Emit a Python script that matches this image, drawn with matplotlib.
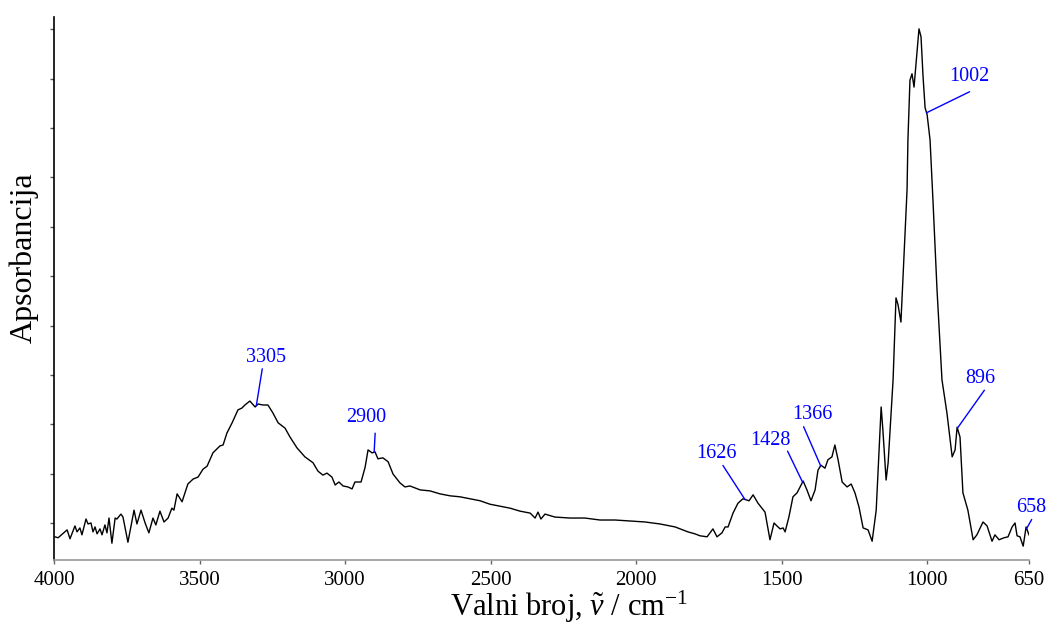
import numpy as np
import matplotlib
matplotlib.use('Agg')
import matplotlib.pyplot as plt

plt.rcParams['font.family'] = ['Liberation Serif', 'DejaVu Serif']
plt.rcParams['mathtext.fontset'] = 'custom'
plt.rcParams['mathtext.rm'] = 'Liberation Serif'
plt.rcParams['mathtext.it'] = 'Liberation Serif:italic'

# spectrum (wavenumber / cm-1, absorbance in arbitrary units)
wavenumber = [3997, 3986, 3955, 3945, 3928, 3921, 3911, 3904, 3890, 3883, 3873, 3866, 3859, 3852,
              3842, 3835, 3825, 3818, 3811, 3801, 3790, 3784, 3770, 3763, 3746, 3725, 3715, 3701,
              3687, 3674, 3660, 3650, 3636, 3622, 3608, 3595, 3588, 3577, 3560, 3540, 3522, 3505,
              3488, 3474, 3454, 3430, 3419, 3406, 3388, 3368, 3354, 3344, 3327, 3309, 3299, 3282,
              3265, 3248, 3230, 3206, 3189, 3165, 3138, 3110, 3093, 3076, 3062, 3045, 3034, 3021,
              3007, 2990, 2976, 2966, 2945, 2931, 2921, 2907, 2897, 2887, 2870, 2852,
              2835, 2811, 2794, 2777, 2742, 2708, 2674, 2639, 2605, 2571, 2536, 2502, 2468, 2433,
              2399, 2364, 2347, 2337, 2327, 2313, 2279, 2227, 2176, 2124, 2072, 2021, 1969, 1918,
              1866, 1822, 1798,
              1780, 1756, 1736, 1722, 1705, 1694, 1684, 1667, 1650, 1633, 1612, 1598, 1581, 1557,
              1540, 1526, 1516, 1505, 1495, 1488, 1475, 1461, 1447, 1426, 1413, 1399, 1385, 1375,
              1365, 1351, 1341, 1327, 1317, 1306, 1292, 1275, 1261, 1248, 1234, 1220, 1203, 1189,
              1175, 1158, 1152, 1141, 1134, 1117, 1107, 1100, 1090, 1080, 1069, 1066, 1059, 1052,
              1045, 1035, 1028, 1021, 1014, 1007, 1000, 990, 980, 966, 949, 932, 914, 904, 897,
              887, 877, 860, 842, 829, 808, 794, 777, 767, 753, 736, 722, 708, 698, 691, 681, 670,
              660, 650]
absorbance = [0.047, 0.045, 0.061, 0.043, 0.069, 0.057, 0.065, 0.051, 0.083, 0.073, 0.075, 0.057,
              0.067, 0.053, 0.063, 0.051, 0.071, 0.055, 0.085, 0.034, 0.085, 0.083, 0.093, 0.087,
              0.036, 0.101, 0.073, 0.101, 0.075, 0.055, 0.085, 0.071, 0.099, 0.077, 0.085, 0.105,
              0.101, 0.134, 0.118, 0.154, 0.164, 0.168, 0.184, 0.190, 0.217, 0.231, 0.233, 0.257,
              0.278, 0.304, 0.308, 0.314, 0.322, 0.310, 0.316, 0.314, 0.314, 0.298, 0.278, 0.267,
              0.249, 0.227, 0.209, 0.197, 0.180, 0.172, 0.176, 0.168, 0.152, 0.158, 0.150, 0.148,
              0.144, 0.158, 0.158, 0.188, 0.223, 0.217, 0.219, 0.205, 0.207, 0.199,
              0.174, 0.156, 0.148, 0.150, 0.142, 0.140, 0.134, 0.130, 0.128, 0.124, 0.120, 0.113,
              0.109, 0.105, 0.099, 0.095, 0.085, 0.097, 0.083, 0.093, 0.087, 0.085, 0.085, 0.081,
              0.081, 0.079, 0.077, 0.073, 0.067, 0.057, 0.053,
              0.049, 0.047, 0.063, 0.047, 0.055, 0.067, 0.067, 0.095, 0.115, 0.124, 0.120, 0.132,
              0.115, 0.097, 0.041, 0.075, 0.069, 0.063, 0.065, 0.057, 0.087, 0.128, 0.136, 0.160,
              0.142, 0.120, 0.142, 0.182, 0.192, 0.186, 0.203, 0.209, 0.233, 0.203, 0.158, 0.148,
              0.154, 0.136, 0.107, 0.065, 0.061, 0.038, 0.101, 0.310, 0.263, 0.162, 0.197, 0.365,
              0.531, 0.517, 0.482, 0.608, 0.750, 0.851, 0.972, 0.985, 0.958, 1.027, 1.076, 1.060,
              0.979, 0.916, 0.902, 0.851, 0.729, 0.547, 0.365, 0.298, 0.209, 0.223, 0.269, 0.249,
              0.136, 0.101, 0.041, 0.051, 0.077, 0.069, 0.038, 0.051, 0.041, 0.045, 0.047, 0.067,
              0.075, 0.049, 0.047, 0.028, 0.067, 0.051]

peaks = [3305, 2900, 1626, 1428, 1366, 1002, 896, 658]
peak_labels = ['3305', '2900', '1626', '1428', '1366', '1002', '896', '658']

x_ticks = [4000, 3500, 3000, 2500, 2000, 1500, 1000, 650]

# label layout, pixel offsets from the peak: (line end) and (text centre)
line_off = [(6, 37), (1, 19), (-22, 34), (-15, 31), (-17, 39), (43, 21), (27, 38), (5, 9)]
text_off = [(10, 48), (-8, 35), (-28, 46), (-32, 42), (-8, 51), (43, 36), (23, 50), (5, 21)]

fig = plt.figure(figsize=(10.49, 6.23), dpi=100)
ax = fig.add_axes([54 / 1049, 63 / 623, 975 / 1049, 543 / 623])

ax.plot(wavenumber, absorbance, color='black', lw=1.0)

wn_sorted = np.array(wavenumber[::-1])
ab_sorted = np.array(absorbance[::-1])
for p, lab, lo, to in zip(peaks, peak_labels, line_off, text_off):
    a = np.interp(p, wn_sorted, ab_sorted)
    ax.annotate('', xy=(p, a), xytext=lo, textcoords='offset pixels',
                arrowprops=dict(arrowstyle='-', color='blue', lw=1, shrinkA=0, shrinkB=0),
                annotation_clip=False)
    ax.annotate(lab, xy=(p, a), xytext=to, textcoords='offset pixels',
                ha='center', va='center', color='blue', fontsize=14.5,
                annotation_clip=False)

ax.set_xlim(4000, 650)
ax.set_ylim(0, 1.1)
ax.set_xticks(x_ticks)
ax.set_xticklabels([str(t) for t in x_ticks], fontsize=15)
ax.set_yticks([0.075 + 0.1 * k for k in range(11)])
ax.set_yticklabels([])

ax.spines['top'].set_visible(False)
ax.spines['right'].set_visible(False)
ax.spines['bottom'].set_color('#9a9a9a')
ax.spines['bottom'].set_linewidth(1.2)
ax.spines['left'].set_color('black')
ax.spines['left'].set_linewidth(1.2)
ax.tick_params(axis='x', direction='out', length=3, width=1, color='#666666', pad=5)
ax.tick_params(axis='y', direction='out', length=3, width=1, color='#555555')

ax.set_xlabel(r'Valni broj, $\tilde{\nu}$ / cm$^{-1}$', fontsize=22)
ax.xaxis.set_label_coords(0.528, -0.053)
ax.xaxis.label.set_va('top')
ax.set_ylabel('Apsorbancija', fontsize=23)
ax.yaxis.set_label_coords(-0.016, 0.556)

fig.savefig('out.png', dpi=100)
